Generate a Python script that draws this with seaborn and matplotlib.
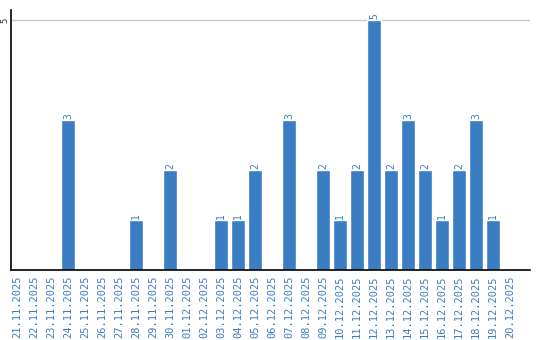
import matplotlib
matplotlib.use("Agg")
import matplotlib.pyplot as plt
import seaborn as sns
import pandas as pd

dates = ["21.11.2025", "22.11.2025", "23.11.2025", "24.11.2025", "25.11.2025",
         "26.11.2025", "27.11.2025", "28.11.2025", "29.11.2025", "30.11.2025",
         "01.12.2025", "02.12.2025", "03.12.2025", "04.12.2025", "05.12.2025",
         "06.12.2025", "07.12.2025", "08.12.2025", "09.12.2025", "10.12.2025",
         "11.12.2025", "12.12.2025", "13.12.2025", "14.12.2025", "15.12.2025",
         "16.12.2025", "17.12.2025", "18.12.2025", "19.12.2025", "20.12.2025"]
values = [0, 0, 0, 3, 0, 0, 0, 1, 0, 2,
          0, 0, 1, 1, 2, 0, 3, 0, 2, 1,
          2, 5, 2, 3, 2, 1, 2, 3, 1, 0]
yticks = [5]

BLUE = "#3a7dc2"
sns.set_theme(style="white")
plt.rcParams['font.family'] = ['DejaVu Sans Mono', 'DejaVu Sans']

df = pd.DataFrame({"date": dates, "value": values})
fig = plt.figure(figsize=(5.4, 3.4), dpi=100)
ax = fig.add_axes([11/540, 70/340, 519/540, 260/340])
sns.barplot(data=df, x="date", y="value", color=BLUE, saturation=1, width=0.82, ax=ax)

for c in ax.containers:
    labels = [str(int(v)) if v > 0 else "" for v in c.datavalues]
    ax.bar_label(c, labels=labels, rotation=90, color=BLUE, fontsize=7, padding=1)

ax.set_xlim(-0.35, 30.18)
ax.set_ylim(0, 5.2)
ax.set_yticks(yticks)
ax.set_yticklabels([str(t) for t in yticks], rotation=90, va="center", fontsize=6.5, color="#333333")
ax.yaxis.grid(True, color="#c8c8c8", linewidth=1)
ax.set_axisbelow(True)
ax.tick_params(axis="y", length=0, pad=1.5)
ax.tick_params(axis="x", length=0, pad=4, labelrotation=90, labelsize=7.5, labelcolor=BLUE)
for lab in ax.get_xticklabels():
    lab.set_va("top")
ax.set_xlabel("")
ax.set_ylabel("")
for s in ["top", "right"]:
    ax.spines[s].set_visible(False)
for s in ["left", "bottom"]:
    ax.spines[s].set_color("black")
    ax.spines[s].set_linewidth(1.2)

fig.savefig("out.png", dpi=100)
